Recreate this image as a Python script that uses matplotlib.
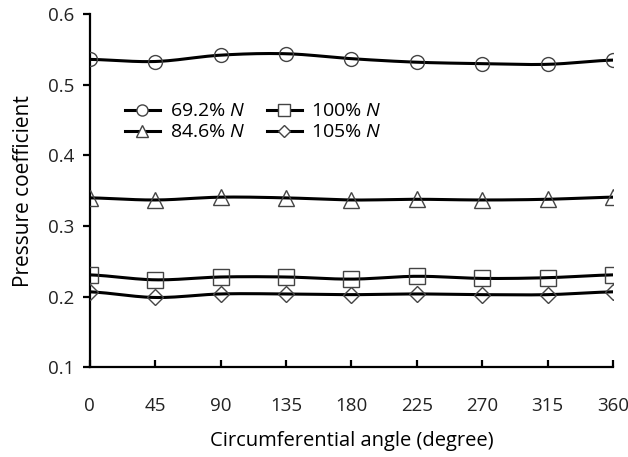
import numpy as np
import matplotlib.pyplot as plt

plt.rcParams["font.family"] = ["Open Sans", "DejaVu Sans"]
plt.rcParams["mathtext.fontset"] = "custom"
plt.rcParams["mathtext.it"] = "Open Sans:italic"

angles = [0, 45, 90, 135, 180, 225, 270, 315, 360]
cp_692 = [0.536, 0.533, 0.542, 0.544, 0.537, 0.532, 0.530, 0.529, 0.535]
cp_846 = [0.340, 0.337, 0.341, 0.340, 0.337, 0.338, 0.337, 0.338, 0.341]
cp_100 = [0.231, 0.224, 0.228, 0.228, 0.225, 0.229, 0.226, 0.227, 0.231]
cp_105 = [0.207, 0.199, 0.204, 0.204, 0.203, 0.204, 0.203, 0.203, 0.207]
labels = ["69.2% $\\mathit{N}$", "84.6% $\\mathit{N}$", "100% $\\mathit{N}$", "105% $\\mathit{N}$"]
markers = ["o", "^", "s", "D"]
msizes = [10, 11, 11, 8]


def smooth(x, y, n=20):
    # Catmull-Rom curve through the points (Excel "smoothed line" look)
    x = np.asarray(x, float)
    y = np.asarray(y, float)
    px = np.concatenate([[2 * x[0] - x[1]], x, [2 * x[-1] - x[-2]]])
    py = np.concatenate([[y[0]], y, [y[-1]]])
    t = np.linspace(0, 1, n, endpoint=False)
    xs, ys = [], []
    for i in range(1, len(px) - 2):
        for p, out in ((px, xs), (py, ys)):
            p0, p1, p2, p3 = p[i - 1], p[i], p[i + 1], p[i + 2]
            out.extend(0.5 * ((2 * p1) + (-p0 + p2) * t
                              + (2 * p0 - 5 * p1 + 4 * p2 - p3) * t ** 2
                              + (-p0 + 3 * p1 - 3 * p2 + p3) * t ** 3))
    xs.append(x[-1])
    ys.append(y[-1])
    return np.array(xs), np.array(ys)


fig = plt.figure(figsize=(6.28, 4.57), dpi=100)
ax = fig.add_axes([0.143, 0.196, 0.833, 0.773])

series = [cp_692, cp_846, cp_100, cp_105]
handles = []
for vals, m, ms, lab in zip(series, markers, msizes, labels):
    sx, sy = smooth(angles, vals)
    ax.plot(sx, sy, color="black", lw=2.2, zorder=2)
    ax.plot(angles, vals, linestyle="none", marker=m, ms=ms, mfc="none",
            mec="#444444", mew=1.0, zorder=3)
    h, = ax.plot([], [], color="black", lw=2.2, marker=m, ms=ms * 0.8,
                 mfc="white", mec="#444444", mew=1.0, label=lab)
    handles.append(h)

ax.set_xlim(0, 360)
ax.set_ylim(0.1, 0.6)
ax.set_xticks(angles)
ax.set_yticks([0.1, 0.2, 0.3, 0.4, 0.5, 0.6])
ax.set_yticklabels(["0.1", "0.2", "0.3", "0.4", "0.5", "0.6"])
ax.spines["top"].set_visible(False)
ax.spines["right"].set_visible(False)
for s in ("left", "bottom"):
    ax.spines[s].set_linewidth(1.6)
ax.tick_params(axis="x", direction="in", length=5, width=1.6, pad=21, labelsize=13.5)
ax.tick_params(axis="y", direction="out", length=5, width=1.6, pad=6, labelsize=13.5)
for lab in ax.get_xticklabels() + ax.get_yticklabels():
    lab.set_color("#222222")

ax.set_xlabel("Circumferential angle (degree)", fontsize=14.5, labelpad=12)
ax.set_ylabel("Pressure coefficient", fontsize=15, labelpad=10)

leg = ax.legend(handles=handles, ncol=2,
                loc="upper left", bbox_to_anchor=(0.067, 0.75), frameon=False,
                fontsize=14, handlelength=1.8, handletextpad=0.5,
                columnspacing=1.1, labelspacing=0.15, borderaxespad=0, borderpad=0)

fig.savefig("out.png", dpi=100)
